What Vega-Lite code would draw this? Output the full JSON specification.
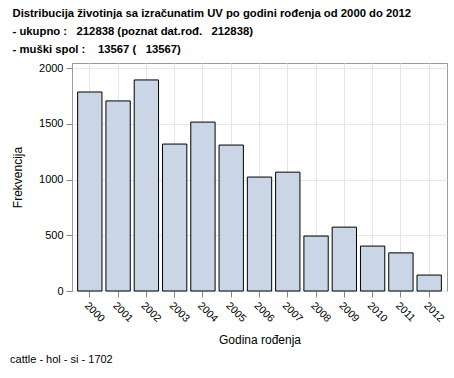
{
  "$schema": "https://vega.github.io/schema/vega-lite/v6.json",
  "background": "white",
  "padding": {"left": 10, "top": 7, "right": 7, "bottom": 8},
  "title": {
    "text": "cattle - hol - si - 1702",
    "orient": "bottom",
    "anchor": "start",
    "frame": "bounds",
    "font": "Liberation Sans",
    "fontSize": 11,
    "fontWeight": "normal",
    "color": "black",
    "offset": 8,
    "dx": -1
  },
  "vconcat": [
    {
      "width": 375,
      "height": 228,
      "title": {
        "text": [
          "Distribucija životinja sa izračunatim UV po godini rođenja od 2000 do 2012",
          "- ukupno :\u00a0\u00a0 212838 (poznat dat.rođ.\u00a0\u00a0 212838)",
          "- muški spol :\u00a0\u00a0\u00a0 13567 (\u00a0\u00a0 13567)"
        ],
        "anchor": "start",
        "frame": "bounds",
        "font": "Liberation Sans",
        "fontSize": 11.3,
        "fontWeight": "bold",
        "color": "black",
        "lineHeight": 18,
        "offset": 7,
        "dx": 1
      },
      "data": {
        "values": [
          {"godina": "2000", "frekvencija": 1785},
          {"godina": "2001", "frekvencija": 1705},
          {"godina": "2002", "frekvencija": 1893},
          {"godina": "2003", "frekvencija": 1318},
          {"godina": "2004", "frekvencija": 1515},
          {"godina": "2005", "frekvencija": 1309},
          {"godina": "2006", "frekvencija": 1022},
          {"godina": "2007", "frekvencija": 1066},
          {"godina": "2008", "frekvencija": 493},
          {"godina": "2009", "frekvencija": 573},
          {"godina": "2010", "frekvencija": 403},
          {"godina": "2011", "frekvencija": 342},
          {"godina": "2012", "frekvencija": 143}
        ]
      },
      "mark": {"type": "bar", "fill": "#CAD5E5", "stroke": "black", "strokeWidth": 1},
      "encoding": {
        "x": {
          "field": "godina",
          "type": "ordinal",
          "title": "Godina rođenja",
          "scale": {"paddingInner": 0.14, "paddingOuter": 0.2},
          "axis": {
            "labelAngle": 45,
            "labelAlign": "left",
            "labelBaseline": "top",
            "labelPadding": 3,
            "labelFontSize": 10.5,
            "grid": true,
            "gridColor": "#E6E6E6",
            "domain": false,
            "tickColor": "#888888",
            "tickSize": 6,
            "titlePadding": 11
          }
        },
        "y": {
          "field": "frekvencija",
          "type": "quantitative",
          "title": "Frekvencija",
          "scale": {"domain": [0, 2045], "nice": false},
          "axis": {
            "values": [0, 500, 1000, 1500, 2000],
            "format": "d",
            "grid": true,
            "gridColor": "#E6E6E6",
            "domain": false,
            "tickColor": "#888888",
            "tickSize": 6,
            "labelPadding": 3,
            "titlePadding": 14
          }
        }
      }
    }
  ],
  "config": {
    "font": "Liberation Sans",
    "view": {"stroke": "#999999", "strokeWidth": 1},
    "axis": {
      "labelFont": "Liberation Sans",
      "labelFontSize": 11,
      "labelColor": "black",
      "titleFont": "Liberation Sans",
      "titleFontSize": 12,
      "titleFontWeight": "normal",
      "titleColor": "black"
    }
  }
}
